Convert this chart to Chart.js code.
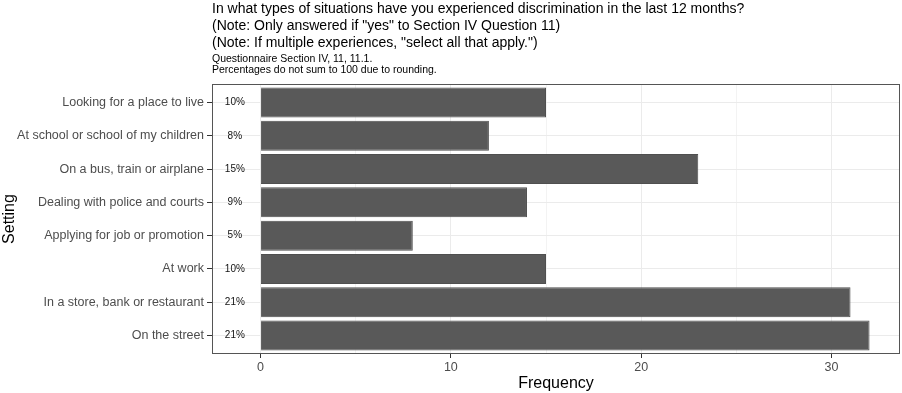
<!DOCTYPE html>
<html>
<head>
<meta charset="utf-8">
<script src="https://cdn.jsdelivr.net/npm/chart.js@4"></script>
<style>
  body { margin: 0; background: #fff; }
  #wrap { width: 902px; height: 393px; }
</style>
</head>
<body>
<div id="wrap"><canvas id="myChart"></canvas></div>
<script>
var settings = [
    'Looking for a place to live',
    'At school or school of my children',
    'On a bus, train or airplane',
    'Dealing with police and courts',
    'Applying for job or promotion',
    'At work',
    'In a store, bank or restaurant',
    'On the street'
];
var frequency = [15, 12, 23, 14, 8, 15, 31, 32];
var percents = ['10%', '8%', '15%', '9%', '5%', '10%', '21%', '21%'];
var xTicks = [0, 5, 10, 15, 20, 25, 30];
var titleLines = [
    'In what types of situations have you experienced discrimination in the last 12 months?',
    '(Note: Only answered if "yes" to Section IV Question 11)',
    '(Note: If multiple experiences, "select all that apply.")'
];
var subtitleLines = [
    'Questionnaire Section IV, 11, 11.1.',
    'Percentages do not sum to 100 due to rounding.'
];
var FONT = '"Liberation Sans", Arial, sans-serif';

// category axis with a little more room above first / below last row
class PadCategory extends Chart.CategoryScale {
    buildTicks() {
        var t = super.buildTicks();
        this._startValue -= 0.055;
        this._valueRange += 0.11;
        return t;
    }
}
PadCategory.id = 'padCategory';
Chart.register(PadCategory);

// panel border, titles and percentage labels
var extras = {
    id: 'extras',
    afterDraw: function(chart) {
        var ctx = chart.ctx;
        var a = chart.chartArea;
        var xs = chart.scales.x, ys = chart.scales.y;
        ctx.save();
        ctx.strokeStyle = '#555555';
        ctx.lineWidth = 1;
        ctx.strokeRect(a.left + 0.5, a.top + 0.5, a.right - a.left - 1, a.bottom - a.top - 1);

        ctx.fillStyle = '#000';
        ctx.textAlign = 'left';
        ctx.textBaseline = 'middle';
        ctx.font = '14px ' + FONT;
        for (var i = 0; i < titleLines.length; i++) {
            ctx.fillText(titleLines[i], a.left, 9.5 + i * 16.8);
        }
        ctx.font = '10.5px ' + FONT;
        for (var j = 0; j < subtitleLines.length; j++) {
            ctx.fillText(subtitleLines[j], a.left, 59 + j * 11.5);
        }

        ctx.font = '10px ' + FONT;
        ctx.textAlign = 'center';
        ctx.fillStyle = '#111';
        for (var k = 0; k < percents.length; k++) {
            ctx.fillText(percents[k], xs.getPixelForValue(-1.35), ys.getPixelForValue(k));
        }
        ctx.restore();
    }
};

var ctx = document.getElementById('myChart').getContext('2d');
var myChart = new Chart(ctx, {
    type: 'bar',
    data: {
        labels: settings,
        datasets: [{
            data: frequency,
            backgroundColor: '#595959',
            borderColor: '#4f4f4f',
            borderWidth: 1,
            barPercentage: 0.9,
            categoryPercentage: 1
        }]
    },
    options: {
        indexAxis: 'y',
        responsive: true,
        maintainAspectRatio: false,
        animation: false,
        layout: { padding: { top: 84, right: 2, left: 0, bottom: 0 } },
        plugins: {
            legend: { display: false },
            tooltip: { enabled: false }
        },
        scales: {
            x: {
                type: 'linear',
                min: -2.55,
                max: 33.6,
                afterBuildTicks: function(scale) {
                    scale.ticks = xTicks.map(function(v) { return { value: v }; });
                },
                afterFit: function(scale) { scale.height = 39; },
                border: { display: false },
                grid: {
                    color: function(c) { return c.tick && c.tick.value % 10 === 0 ? '#ebebeb' : '#f3f3f3'; },
                    lineWidth: 1,
                    tickLength: 4,
                    tickColor: function(c) { return c.tick && c.tick.value % 10 === 0 ? '#333333' : 'rgba(0,0,0,0)'; }
                },
                ticks: {
                    autoSkip: false,
                    maxRotation: 0,
                    padding: 2,
                    color: '#4d4d4d',
                    font: { family: FONT, size: 12.5 },
                    callback: function(v) { return v % 10 === 0 ? String(v) : ''; }
                },
                title: {
                    display: true,
                    text: 'Frequency',
                    color: '#000',
                    padding: { top: 0, bottom: 0 },
                    font: { family: FONT, size: 16 }
                }
            },
            y: {
                type: 'padCategory',
                offset: true,
                afterFit: function(scale) { scale.width = 212; },
                border: { display: false },
                grid: {
                    offset: false,
                    color: '#ebebeb',
                    lineWidth: 1,
                    tickLength: 5,
                    tickColor: '#333333'
                },
                ticks: {
                    padding: 3,
                    color: '#4d4d4d',
                    font: { family: FONT, size: 12.5 }
                },
                title: {
                    display: true,
                    text: 'Setting',
                    color: '#000',
                    padding: { top: 0, bottom: 0 },
                    font: { family: FONT, size: 16 }
                }
            }
        }
    },
    plugins: [extras]
});
</script>
</body>
</html>
